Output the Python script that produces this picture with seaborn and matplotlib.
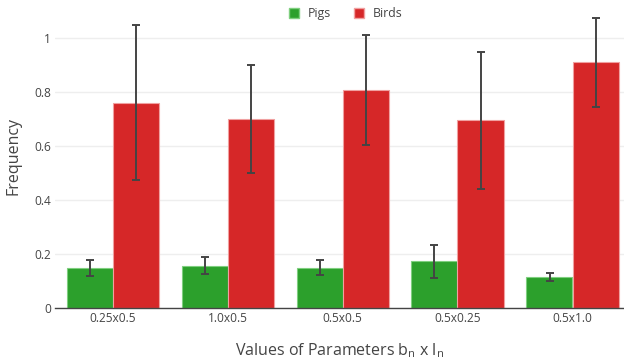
import matplotlib
matplotlib.use("Agg")
import matplotlib.pyplot as plt
from matplotlib.lines import Line2D
import seaborn as sns
import pandas as pd
import numpy as np

categories = ["0.25x0.5", "1.0x0.5", "0.5x0.5", "0.5x0.25", "0.5x1.0"]
series_names = ["Pigs", "Birds"]
pigs = [0.146, 0.156, 0.148, 0.172, 0.113]
pigs_err = [0.029, 0.032, 0.028, 0.062, 0.014]
birds = [0.760, 0.699, 0.806, 0.694, 0.909]
birds_err = [0.286, 0.199, 0.205, 0.253, 0.165]
yticks = [0, 0.2, 0.4, 0.6, 0.8, 1]
ytick_labels = ["0", "0.2", "0.4", "0.6", "0.8", "1"]

colors = {"Pigs": "#2ca02c", "Birds": "#d62728"}
edges = {"Pigs": "#7fcf7f", "Birds": "#f0a0a0"}

df = pd.DataFrame({
    "category": categories * 2,
    "series": ["Pigs"] * len(categories) + ["Birds"] * len(categories),
    "value": pigs + birds,
})

sns.set_theme(style="white")
plt.rcParams["font.family"] = ["Open Sans", "DejaVu Sans"]
plt.rcParams["mathtext.fontset"] = "custom"
plt.rcParams["mathtext.rm"] = "Open Sans"

W, H = 624, 364
fig = plt.figure(figsize=(W / 100, H / 100), dpi=100)
left, right, top, bottom = 55, 624, 5, 307.7
ax = fig.add_axes([left / W, 1 - bottom / H, (right - left) / W, (bottom - top) / H])

sns.barplot(data=df, x="category", y="value", hue="series", order=categories,
            hue_order=series_names, palette=colors, width=0.8, ax=ax,
            errorbar=None, legend=False, saturation=1)

errs = {"Pigs": pigs_err, "Birds": birds_err}
vals = {"Pigs": pigs, "Birds": birds}
for cont, name in zip(ax.containers, series_names):
    xs = []
    for bar in cont:
        bar.set_edgecolor(edges[name])
        bar.set_linewidth(0.8)
        xs.append(bar.get_x() + bar.get_width() / 2)
    ax.errorbar(xs, vals[name], yerr=errs[name], fmt="none", ecolor="#444444",
                elinewidth=1.4, capsize=3, capthick=1.4, zorder=5)

cat_w = 115.0
ax.set_xlim(-0.5, -0.5 + (right - left) / cat_w)
ax.set_ylim(0, (bottom - top) / 270.0)
ax.set_yticks(yticks)
ax.set_yticklabels(ytick_labels)
ax.grid(axis="y", color="#eeeeee", linewidth=1)
ax.set_axisbelow(True)
for s in ["top", "right", "left"]:
    ax.spines[s].set_visible(False)
ax.spines["bottom"].set_color("#444444")
ax.spines["bottom"].set_linewidth(1)
ax.tick_params(axis="both", length=0, labelsize=8.6, colors="#444444")
ax.tick_params(axis="x", pad=3)
ax.tick_params(axis="y", pad=3)
ax.set_xlabel(r"Values of Parameters b$_\mathregular{n}$ x l$_\mathregular{n}$",
              fontsize=11.5, color="#444444", labelpad=12)
ax.set_ylabel("Frequency", fontsize=11.5, color="#444444", labelpad=9)

handles = [Line2D([0], [0], marker="s", linestyle="none", markersize=7.5,
                  markerfacecolor=colors[n], markeredgecolor=edges[n]) for n in series_names]
fig.legend(handles, series_names, loc="center", bbox_to_anchor=(345 / W, 1 - 13.5 / H),
           ncol=2, frameon=False, fontsize=8.8, labelcolor="#444444",
           handletextpad=0.6, columnspacing=1.8, handlelength=1.0)

fig.savefig("out.png", dpi=100)
